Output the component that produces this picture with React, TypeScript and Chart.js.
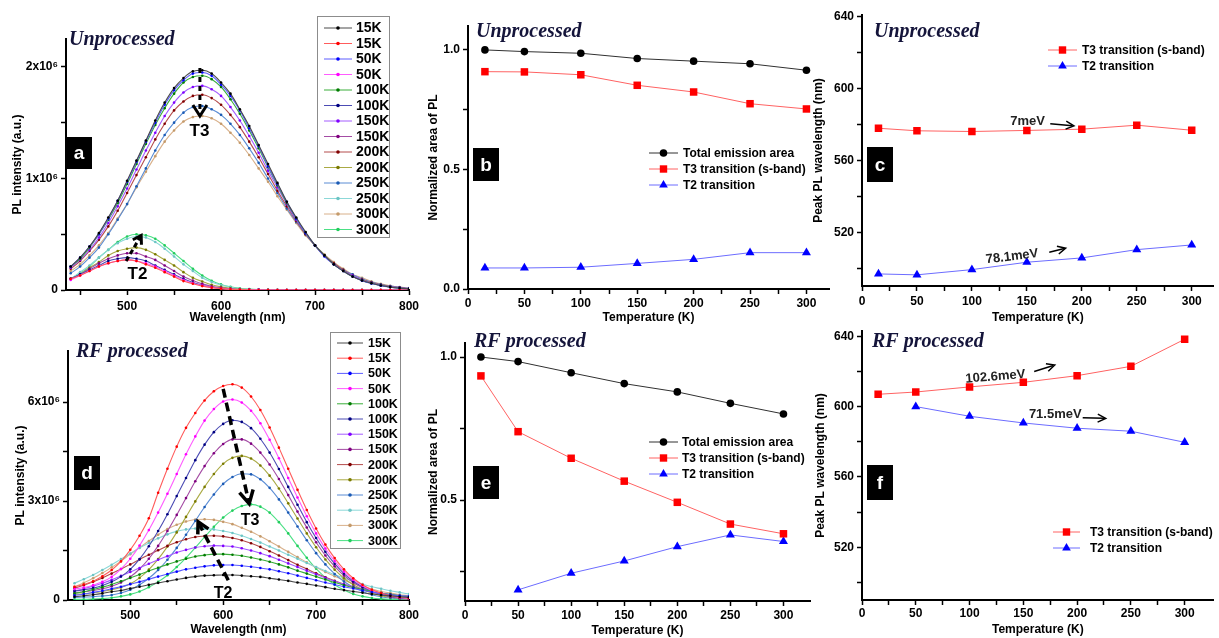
import React, { useEffect, useRef } from 'react';
import { Chart, registerables } from 'chart.js';

Chart.register(...registerables);

const SANS = '"Liberation Sans", Arial, Helvetica, sans-serif';
const SERIF = '"Liberation Serif", "Times New Roman", serif';

// ---------------- data ----------------
const WL = [440, 450, 460, 470, 480, 490, 500, 510, 520, 530, 540, 550, 560, 570, 580, 590, 600, 610, 620, 630, 640, 650, 660, 670, 680, 690, 700, 710, 720, 730, 740, 750, 760, 770, 780, 790, 800];

// panel a (Unprocessed), units of 1e6
const aBlack15 = [0.21, 0.29, 0.39, 0.51, 0.65, 0.80, 0.98, 1.16, 1.34, 1.52, 1.68, 1.81, 1.90, 1.96, 1.97, 1.94, 1.86, 1.76, 1.62, 1.47, 1.30, 1.13, 0.96, 0.79, 0.65, 0.52, 0.40, 0.31, 0.23, 0.17, 0.12, 0.085, 0.06, 0.04, 0.026, 0.017, 0.01];
const aRed15 = [0.10, 0.13, 0.17, 0.21, 0.24, 0.26, 0.27, 0.26, 0.23, 0.20, 0.16, 0.12, 0.08, 0.056, 0.035, 0.021, 0.012, 0.006, 0.003, 0.001, 0, 0, 0, 0, 0, 0, 0, 0, 0, 0, 0, 0, 0, 0, 0, 0, 0];
const aBlue50 = [0.21, 0.29, 0.39, 0.50, 0.64, 0.80, 0.97, 1.15, 1.33, 1.50, 1.66, 1.79, 1.88, 1.94, 1.95, 1.92, 1.84, 1.74, 1.61, 1.45, 1.29, 1.11, 0.95, 0.79, 0.64, 0.51, 0.40, 0.30, 0.23, 0.17, 0.12, 0.084, 0.058, 0.039, 0.026, 0.017, 0.011];
const aMag50 = [0.09, 0.13, 0.17, 0.21, 0.24, 0.26, 0.27, 0.26, 0.24, 0.21, 0.17, 0.13, 0.09, 0.061, 0.039, 0.023, 0.013, 0.007, 0.003, 0.002, 0.001, 0, 0, 0, 0, 0, 0, 0, 0, 0, 0, 0, 0, 0, 0, 0, 0];
const aGreen100 = [0.21, 0.28, 0.38, 0.50, 0.63, 0.78, 0.95, 1.13, 1.31, 1.48, 1.63, 1.76, 1.86, 1.91, 1.92, 1.89, 1.82, 1.71, 1.58, 1.43, 1.27, 1.10, 0.94, 0.78, 0.64, 0.51, 0.40, 0.31, 0.23, 0.17, 0.12, 0.086, 0.06, 0.04, 0.027, 0.017, 0.011];
const aNavy100 = [0.10, 0.14, 0.18, 0.22, 0.26, 0.28, 0.29, 0.28, 0.26, 0.22, 0.18, 0.14, 0.10, 0.066, 0.042, 0.025, 0.014, 0.007, 0.004, 0.002, 0.001, 0, 0, 0, 0, 0, 0, 0, 0, 0, 0, 0, 0, 0, 0, 0, 0];
const aViolet150 = [0.20, 0.27, 0.36, 0.47, 0.60, 0.75, 0.91, 1.08, 1.25, 1.41, 1.56, 1.68, 1.77, 1.82, 1.83, 1.80, 1.74, 1.64, 1.52, 1.38, 1.23, 1.07, 0.92, 0.77, 0.63, 0.51, 0.40, 0.31, 0.23, 0.17, 0.13, 0.09, 0.063, 0.043, 0.029, 0.019, 0.012];
const aPurple150 = [0.10, 0.14, 0.19, 0.24, 0.28, 0.31, 0.33, 0.33, 0.30, 0.27, 0.22, 0.17, 0.12, 0.085, 0.055, 0.033, 0.019, 0.010, 0.005, 0.003, 0.001, 0, 0, 0, 0, 0, 0, 0, 0, 0, 0, 0, 0, 0, 0, 0, 0];
const aWine200 = [0.19, 0.26, 0.35, 0.45, 0.57, 0.71, 0.87, 1.03, 1.19, 1.35, 1.49, 1.61, 1.69, 1.74, 1.75, 1.72, 1.66, 1.57, 1.46, 1.33, 1.19, 1.04, 0.89, 0.75, 0.62, 0.50, 0.40, 0.31, 0.24, 0.18, 0.13, 0.094, 0.067, 0.046, 0.031, 0.021, 0.014];
const aOlive200 = [0.10, 0.14, 0.20, 0.25, 0.31, 0.35, 0.37, 0.38, 0.36, 0.32, 0.27, 0.22, 0.16, 0.11, 0.076, 0.047, 0.028, 0.015, 0.008, 0.004, 0.002, 0.001, 0, 0, 0, 0, 0, 0, 0, 0, 0, 0, 0, 0, 0, 0, 0];
const aSteel250 = [0.15, 0.21, 0.29, 0.38, 0.50, 0.63, 0.77, 0.93, 1.09, 1.25, 1.39, 1.50, 1.59, 1.64, 1.65, 1.62, 1.57, 1.49, 1.39, 1.27, 1.14, 1.00, 0.87, 0.73, 0.61, 0.50, 0.40, 0.31, 0.24, 0.18, 0.14, 0.10, 0.072, 0.05, 0.035, 0.024, 0.016];
const aCyan250 = [0.10, 0.16, 0.22, 0.29, 0.36, 0.42, 0.46, 0.48, 0.47, 0.43, 0.37, 0.30, 0.23, 0.17, 0.11, 0.072, 0.044, 0.025, 0.013, 0.007, 0.003, 0.001, 0, 0, 0, 0, 0, 0, 0, 0, 0, 0, 0, 0, 0, 0, 0];
const aTan300 = [0.17, 0.23, 0.31, 0.40, 0.51, 0.64, 0.77, 0.92, 1.06, 1.20, 1.33, 1.43, 1.51, 1.55, 1.56, 1.54, 1.49, 1.41, 1.32, 1.21, 1.09, 0.97, 0.84, 0.72, 0.60, 0.49, 0.40, 0.32, 0.25, 0.19, 0.14, 0.11, 0.077, 0.055, 0.038, 0.026, 0.018];
const aLgreen300 = [0.10, 0.15, 0.21, 0.29, 0.36, 0.43, 0.48, 0.50, 0.49, 0.46, 0.40, 0.33, 0.26, 0.19, 0.13, 0.083, 0.05, 0.029, 0.016, 0.008, 0.004, 0.002, 0.001, 0, 0, 0, 0, 0, 0, 0, 0, 0, 0, 0, 0, 0, 0];

// panel d (RF processed), units of 1e6
const dBlack15 = [0.10, 0.13, 0.16, 0.20, 0.25, 0.29, 0.35, 0.40, 0.46, 0.52, 0.57, 0.62, 0.67, 0.71, 0.74, 0.75, 0.76, 0.76, 0.74, 0.72, 0.70, 0.66, 0.62, 0.58, 0.53, 0.49, 0.44, 0.39, 0.34, 0.30, 0.26, 0.22, 0.18, 0.15, 0.13, 0.10, 0.08];
const dRed15 = [0.40, 0.47, 0.57, 0.72, 0.91, 1.17, 1.52, 1.95, 2.48, 3.25, 3.98, 4.65, 5.22, 5.67, 6.05, 6.33, 6.49, 6.54, 6.44, 6.17, 5.76, 5.23, 4.62, 3.98, 3.34, 2.73, 2.17, 1.68, 1.27, 0.93, 0.66, 0.46, 0.31, 0.21, 0.13, 0.083, 0.05];
const dBlue50 = [0.14, 0.18, 0.23, 0.28, 0.34, 0.40, 0.48, 0.55, 0.63, 0.71, 0.79, 0.86, 0.93, 0.98, 1.02, 1.05, 1.06, 1.06, 1.04, 1.01, 0.97, 0.93, 0.87, 0.81, 0.74, 0.67, 0.60, 0.53, 0.47, 0.40, 0.35, 0.29, 0.24, 0.20, 0.16, 0.13, 0.11];
const dMag50 = [0.33, 0.38, 0.45, 0.55, 0.70, 0.94, 1.25, 1.65, 2.12, 2.65, 3.22, 3.82, 4.42, 4.96, 5.44, 5.79, 6.02, 6.08, 5.99, 5.74, 5.36, 4.86, 4.30, 3.70, 3.11, 2.54, 2.02, 1.56, 1.18, 0.86, 0.61, 0.43, 0.29, 0.20, 0.12, 0.077, 0.047];
const dGreen100 = [0.20, 0.25, 0.32, 0.39, 0.47, 0.57, 0.67, 0.77, 0.88, 0.98, 1.08, 1.17, 1.25, 1.32, 1.36, 1.39, 1.39, 1.37, 1.34, 1.29, 1.23, 1.16, 1.08, 0.99, 0.89, 0.80, 0.71, 0.62, 0.53, 0.45, 0.38, 0.32, 0.26, 0.21, 0.17, 0.13, 0.10];
const dNavy100 = [0.27, 0.31, 0.36, 0.44, 0.55, 0.71, 0.93, 1.24, 1.63, 2.09, 2.60, 3.15, 3.70, 4.24, 4.71, 5.09, 5.34, 5.45, 5.40, 5.21, 4.89, 4.47, 3.97, 3.43, 2.89, 2.36, 1.88, 1.46, 1.10, 0.80, 0.57, 0.40, 0.27, 0.18, 0.11, 0.07, 0.04];
const dViolet150 = [0.27, 0.34, 0.42, 0.51, 0.61, 0.73, 0.85, 0.97, 1.10, 1.22, 1.33, 1.44, 1.52, 1.59, 1.63, 1.65, 1.64, 1.62, 1.57, 1.50, 1.42, 1.33, 1.22, 1.11, 1.00, 0.89, 0.78, 0.67, 0.57, 0.48, 0.40, 0.33, 0.27, 0.21, 0.17, 0.13, 0.10];
const dPurple150 = [0.22, 0.25, 0.29, 0.34, 0.42, 0.53, 0.70, 0.94, 1.25, 1.64, 2.09, 2.58, 3.09, 3.60, 4.06, 4.45, 4.73, 4.87, 4.87, 4.74, 4.47, 4.11, 3.67, 3.18, 2.68, 2.20, 1.75, 1.35, 1.02, 0.74, 0.53, 0.37, 0.25, 0.16, 0.10, 0.063, 0.038];
const dWine200 = [0.36, 0.45, 0.55, 0.67, 0.80, 0.94, 1.08, 1.23, 1.37, 1.51, 1.64, 1.75, 1.84, 1.91, 1.94, 1.95, 1.93, 1.88, 1.81, 1.72, 1.61, 1.48, 1.35, 1.21, 1.07, 0.94, 0.81, 0.69, 0.58, 0.48, 0.39, 0.31, 0.25, 0.19, 0.15, 0.11, 0.085];
const dOlive200 = [0.17, 0.19, 0.22, 0.26, 0.31, 0.38, 0.49, 0.67, 0.92, 1.24, 1.62, 2.05, 2.52, 2.99, 3.43, 3.82, 4.13, 4.31, 4.37, 4.29, 4.08, 3.77, 3.38, 2.93, 2.47, 2.02, 1.60, 1.23, 0.92, 0.66, 0.46, 0.32, 0.21, 0.13, 0.083, 0.05, 0.029];
const dSteel250 = [0.08, 0.09, 0.10, 0.12, 0.15, 0.21, 0.31, 0.46, 0.66, 0.91, 1.22, 1.58, 1.98, 2.40, 2.82, 3.20, 3.52, 3.73, 3.83, 3.81, 3.66, 3.40, 3.05, 2.65, 2.23, 1.81, 1.42, 1.08, 0.79, 0.56, 0.39, 0.26, 0.16, 0.10, 0.061, 0.036, 0.02];
const dCyan250 = [0.51, 0.63, 0.76, 0.91, 1.07, 1.24, 1.41, 1.58, 1.73, 1.87, 1.99, 2.08, 2.14, 2.17, 2.16, 2.14, 2.09, 2.03, 1.95, 1.85, 1.74, 1.62, 1.50, 1.37, 1.25, 1.12, 1.00, 0.88, 0.77, 0.66, 0.57, 0.48, 0.40, 0.34, 0.28, 0.23, 0.18];
const dTan300 = [0.40, 0.52, 0.66, 0.82, 0.99, 1.18, 1.39, 1.59, 1.79, 1.98, 2.15, 2.28, 2.38, 2.44, 2.45, 2.43, 2.37, 2.30, 2.19, 2.07, 1.93, 1.78, 1.62, 1.46, 1.30, 1.14, 0.99, 0.85, 0.72, 0.60, 0.50, 0.41, 0.33, 0.26, 0.21, 0.16, 0.13];
const dLgreen300 = [0.02, 0.02, 0.03, 0.045, 0.07, 0.11, 0.17, 0.26, 0.39, 0.55, 0.75, 1.00, 1.28, 1.59, 1.91, 2.22, 2.50, 2.71, 2.85, 2.90, 2.83, 2.65, 2.36, 2.02, 1.64, 1.28, 0.95, 0.68, 0.46, 0.30, 0.18, 0.11, 0.062, 0.034, 0.017, 0.009, 0.004];

const SPEC_LABELS = ['15K', '15K', '50K', '50K', '100K', '100K', '150K', '150K', '200K', '200K', '250K', '250K', '300K', '300K'];

// temperature panels
const TEMPS = [15, 50, 100, 150, 200, 250, 300];
const TEMPS_E2 = [50, 100, 150, 200, 250, 300];
const TEMPS_F2 = [50, 100, 150, 200, 250, 300];

const B_TOTAL = [1.0, 0.993, 0.986, 0.964, 0.953, 0.942, 0.915];
const B_T3 = [0.909, 0.908, 0.896, 0.852, 0.824, 0.775, 0.753];
const B_T2 = [0.088, 0.088, 0.091, 0.107, 0.124, 0.152, 0.152];

const C_T3 = [578.1, 576.7, 576.3, 576.9, 577.6, 579.8, 577.0];
const C_T2 = [497.2, 496.7, 499.6, 503.7, 506.1, 510.7, 513.3];

const E_TOTAL = [1.0, 0.984, 0.945, 0.907, 0.878, 0.838, 0.801];
const E_T3 = [0.934, 0.739, 0.646, 0.566, 0.492, 0.416, 0.382];
const E_T2 = [0.186, 0.244, 0.287, 0.337, 0.378, 0.355];

const F_T3 = [607.0, 608.3, 611.2, 613.8, 617.6, 622.9, 638.3];
const F_T2 = [600.0, 594.5, 590.7, 587.7, 586.0, 579.7];

// tick positions
const WL_TICKS = [450, 500, 550, 600, 650, 700, 750, 800];
const A_Y_TICKS = [0, 0.5, 1, 1.5, 2];
const D_Y_TICKS = [0, 1.5, 3, 4.5, 6];
const T_TICKS = [0, 25, 50, 75, 100, 125, 150, 175, 200, 225, 250, 275, 300];
const B_Y_TICKS = [0, 0.25, 0.5, 0.75, 1];
const E_Y_TICKS = [0.25, 0.5, 0.75, 1];
const PEAK_TICKS = [500, 520, 540, 560, 580, 600, 620, 640];

const LEG_TOTAL = 'Total emission area';
const LEG_T3 = 'T3 transition (s-band)';
const LEG_T2 = 'T2 transition';

// ---------------- styles ----------------
const COL: any = {
  black: { line: '#4a4a4a', pt: '#000000' },
  red: { line: '#ff5c5c', pt: '#ff0000' },
  blue: { line: '#5c5cff', pt: '#0000ff' },
  magenta: { line: '#ff5cff', pt: '#ff00ff' },
  green: { line: '#3aae3a', pt: '#007a00' },
  navy: { line: '#4c4cb4', pt: '#000080' },
  violet: { line: '#a45cff', pt: '#8000ff' },
  purple: { line: '#a44ca4', pt: '#800080' },
  wine: { line: '#b44c4c', pt: '#800000' },
  olive: { line: '#aaaa44', pt: '#7a7a00' },
  steel: { line: '#5a8cd4', pt: '#1a5ab4' },
  cyan: { line: '#8cd8d8', pt: '#6cc4c4' },
  tan: { line: '#d8b08a', pt: '#c49a6a' },
  lgreen: { line: '#4ae084', pt: '#22cc5c' },
};
const SPEC_COLORS = [COL.black, COL.red, COL.blue, COL.magenta, COL.green, COL.navy, COL.violet, COL.purple, COL.wine, COL.olive, COL.steel, COL.cyan, COL.tan, COL.lgreen];
const A_SERIES = [aBlack15, aRed15, aBlue50, aMag50, aGreen100, aNavy100, aViolet150, aPurple150, aWine200, aOlive200, aSteel250, aCyan250, aTan300, aLgreen300];
const D_SERIES = [dBlack15, dRed15, dBlue50, dMag50, dGreen100, dNavy100, dViolet150, dPurple150, dWine200, dOlive200, dSteel250, dCyan250, dTan300, dLgreen300];

const TOTAL_STYLE = { line: '#303030', pt: '#000000', marker: 'circle' };
const T3_STYLE = { line: '#ff6262', pt: '#ff0000', marker: 'rect' };
const T2_STYLE = { line: '#6c6cff', pt: '#0000ff', marker: 'triangle' };

const TITLE_FONT = `italic bold 20px ${SERIF}`;
const TITLE_COLOR = '#14143a';

// ---------------- helpers ----------------
function axis(o: any) {
  return {
    type: 'linear',
    min: o.min,
    max: o.max,
    afterBuildTicks: (s: any) => {
      s.ticks = o.ticks.map((v: number) => ({ value: v }));
    },
    afterFit: (s: any) => {
      if (o.isY) s.width = o.size;
      else s.height = o.size;
    },
    ticks: {
      autoSkip: false,
      maxRotation: 0,
      minRotation: 0,
      padding: o.tickPad ?? 3,
      color: '#000',
      font: { family: SANS, weight: 'bold', size: 12 },
      callback: (v: any) => o.label(Number(v)),
    },
    grid: { display: true, drawOnChartArea: false, drawTicks: true, tickLength: 5, tickColor: '#000', tickWidth: 1.5 },
    border: { display: true, color: '#000', width: 2 },
    title: {
      display: true,
      text: o.title,
      color: '#000',
      font: { family: SANS, weight: 'bold', size: 12 },
      padding: o.isY ? { top: o.titlePad, bottom: 0 } : { top: 0, bottom: o.titlePad },
    },
  };
}

function drawMarker(ctx: any, kind: string, x: number, y: number, color: string) {
  ctx.fillStyle = color;
  ctx.beginPath();
  if (kind === 'circle') ctx.arc(x, y, 3.8, 0, Math.PI * 2);
  else if (kind === 'rect') ctx.rect(x - 3.7, y - 3.7, 7.4, 7.4);
  else if (kind === 'triangle') {
    const r = 5;
    ctx.moveTo(x, y - r);
    ctx.lineTo(x + r * 0.866, y + r * 0.5);
    ctx.lineTo(x - r * 0.866, y + r * 0.5);
    ctx.closePath();
  } else ctx.arc(x, y, 1.8, 0, Math.PI * 2);
  ctx.fill();
}

function drawArrow(ctx: any, x1: number, y1: number, x2: number, y2: number, a: any) {
  ctx.save();
  ctx.strokeStyle = a.color || '#000';
  ctx.lineWidth = a.w;
  ctx.lineCap = 'butt';
  ctx.lineJoin = 'miter';
  const ang = Math.atan2(y2 - y1, x2 - x1);
  ctx.setLineDash(a.dash || []);
  ctx.beginPath();
  ctx.moveTo(x1, y1);
  ctx.lineTo(x2 - Math.cos(ang) * a.w, y2 - Math.sin(ang) * a.w);
  ctx.stroke();
  ctx.setLineDash([]);
  const bx = x2 - Math.cos(ang) * a.hl;
  const by = y2 - Math.sin(ang) * a.hl;
  const px = -Math.sin(ang) * a.hw;
  const py = Math.cos(ang) * a.hw;
  ctx.beginPath();
  ctx.moveTo(bx + px, by + py);
  ctx.lineTo(x2, y2);
  ctx.lineTo(bx - px, by - py);
  ctx.stroke();
  ctx.restore();
}

function drawLegend(ctx: any, L: any) {
  ctx.save();
  if (L.box) {
    ctx.strokeStyle = '#8c8c8c';
    ctx.lineWidth = 1;
    ctx.strokeRect(L.box[0] + 0.5, L.box[1] + 0.5, L.box[2], L.box[3]);
  }
  L.items.forEach((it: any, i: number) => {
    const y = L.y + i * L.row;
    ctx.strokeStyle = it.line;
    ctx.lineWidth = 1;
    ctx.beginPath();
    ctx.moveTo(L.x1, y);
    ctx.lineTo(L.x2, y);
    ctx.stroke();
    drawMarker(ctx, it.marker, (L.x1 + L.x2) / 2, y, it.pt);
    ctx.font = L.font;
    ctx.fillStyle = '#000';
    ctx.textAlign = 'left';
    ctx.textBaseline = 'middle';
    ctx.fillText(it.label, L.tx, y + 0.5);
  });
  ctx.restore();
}

function makeDeco(d: any) {
  return {
    id: 'deco',
    afterDraw(chart: any) {
      const ctx = chart.ctx;
      const xs = chart.scales.x;
      const ys = chart.scales.y;
      const P = (x: number, y: number, px?: boolean) => (px ? [x, y] : [xs.getPixelForValue(x), ys.getPixelForValue(y)]);
      ctx.save();
      (d.arrows || []).forEach((a: any) => {
        const [x1, y1] = P(a.x1, a.y1);
        const [x2, y2] = P(a.x2, a.y2);
        drawArrow(ctx, x1, y1, x2, y2, a);
      });
      (d.boxes || []).forEach((b: any) => {
        ctx.fillStyle = '#000';
        ctx.fillRect(b.x, b.y, b.w, b.h);
        ctx.fillStyle = '#fff';
        ctx.font = `bold 19px ${SANS}`;
        ctx.textAlign = 'center';
        ctx.textBaseline = 'middle';
        ctx.fillText(b.letter, b.x + b.w / 2, b.y + b.h / 2 + 1);
      });
      (d.texts || []).forEach((t: any) => {
        const [x, y] = P(t.x, t.y, t.px);
        ctx.save();
        ctx.translate(x, y);
        if (t.rot) ctx.rotate(t.rot);
        ctx.font = t.font;
        ctx.fillStyle = t.color || '#000';
        ctx.textAlign = t.align || 'center';
        ctx.textBaseline = 'middle';
        ctx.fillText(t.t, 0, 0);
        ctx.restore();
      });
      if (d.legend) drawLegend(ctx, d.legend);
      ctx.restore();
    },
  };
}

function specDatasets(series: number[][]) {
  return series.map((s, i) => ({
    label: SPEC_LABELS[i],
    data: WL.map((x, j) => ({ x, y: s[j] })),
    borderColor: SPEC_COLORS[i].line,
    backgroundColor: SPEC_COLORS[i].pt,
    pointBackgroundColor: SPEC_COLORS[i].pt,
    pointBorderWidth: 0,
    pointRadius: 1.3,
    pointHoverRadius: 0,
    borderWidth: 1.1,
    cubicInterpolationMode: 'monotone',
    fill: false,
  }));
}

function ptDataset(label: string, xs: number[], ys: number[], st: any) {
  return {
    label,
    data: xs.map((x, i) => ({ x, y: ys[i] })),
    borderColor: st.line,
    borderWidth: 1,
    backgroundColor: st.pt,
    pointBackgroundColor: st.pt,
    pointBorderColor: st.pt,
    pointBorderWidth: 0,
    pointStyle: st.marker,
    pointRadius: st.marker === 'rect' ? 5.3 : st.marker === 'triangle' ? 5.2 : 3.8,
    pointHoverRadius: 0,
    tension: 0,
    fill: false,
  };
}

const specLegendItems = () => SPEC_LABELS.map((label, i) => ({ label, line: SPEC_COLORS[i].line, pt: SPEC_COLORS[i].pt, marker: 'dot' }));

const BASE_OPTS = {
  responsive: false,
  maintainAspectRatio: false,
  animation: false,
  events: [],
  plugins: { legend: { display: false }, tooltip: { enabled: false }, title: { display: false } },
};

const wlLabel = (v: number) => (v % 100 === 0 ? String(v) : '');
const tLabel = (v: number) => (v % 50 === 0 ? String(v) : '');
const expLabel = (v: number) => (v === 0 ? '0' : Number.isInteger(v) ? `${v}x10\u2076` : '');
const peakLabel = (v: number) => ((v - 520) % 40 === 0 ? String(v) : '');

// ---------------- chart configs ----------------
const makeA = () => ({
  type: 'line',
  data: { datasets: specDatasets(A_SERIES) },
  options: {
    ...BASE_OPTS,
    layout: { padding: { left: 0, top: 39, right: 16, bottom: 0 } },
    scales: {
      x: axis({ min: 435, max: 800, ticks: WL_TICKS, label: wlLabel, title: 'Wavelength (nm)', size: 36, isY: false, titlePad: 1, tickPad: 4 }),
      y: axis({ min: 0, max: 2.25, ticks: A_Y_TICKS, label: expLabel, title: 'PL intensity (a.u.)', size: 66, isY: true, titlePad: 10 }),
    },
  },
  plugins: [
    makeDeco({
      arrows: [
        { x1: 577.5, y1: 1.99, x2: 577.5, y2: 1.56, w: 3, dash: [5, 4], hl: 11, hw: 7 },
        { x1: 499, y1: 0.26, x2: 515, y2: 0.49, w: 3, dash: [5, 3], hl: 8, hw: 5 },
      ],
      texts: [
        { t: 'Unprocessed', x: 69, y: 40, px: true, font: TITLE_FONT, color: TITLE_COLOR, align: 'left' },
        { t: 'T3', x: 577, y: 1.42, font: `bold 17px ${SANS}` },
        { t: 'T2', x: 511, y: 0.14, font: `bold 17px ${SANS}` },
      ],
      boxes: [{ x: 66, y: 137, w: 26, h: 32, letter: 'a' }],
      legend: { box: [317, 16, 72, 221], x1: 324, x2: 352, tx: 356, y: 28, row: 15.5, font: `bold 14px ${SANS}`, items: specLegendItems() },
    }),
  ],
});

const makeD = () => ({
  type: 'line',
  data: { datasets: specDatasets(D_SERIES) },
  options: {
    ...BASE_OPTS,
    layout: { padding: { left: 0, top: 33, right: 16, bottom: 0 } },
    scales: {
      x: axis({ min: 433, max: 800, ticks: WL_TICKS, label: wlLabel, title: 'Wavelength (nm)', size: 38, isY: false, titlePad: 1, tickPad: 3 }),
      y: axis({ min: 0, max: 7.55, ticks: D_Y_TICKS, label: expLabel, title: 'PL intensity (a.u.)', size: 68, isY: true, titlePad: 13 }),
    },
  },
  plugins: [
    makeDeco({
      arrows: [
        { x1: 600, y1: 6.4, x2: 628, y2: 2.92, w: 3.5, dash: [9, 5], hl: 13, hw: 7 },
        { x1: 605.5, y1: 0.6, x2: 573, y2: 2.37, w: 3.5, dash: [9, 5], hl: 11, hw: 6 },
      ],
      texts: [
        { t: 'RF processed', x: 76, y: 34, px: true, font: TITLE_FONT, color: TITLE_COLOR, align: 'left' },
        { t: 'T3', x: 629, y: 2.42, font: `bold 16px ${SANS}` },
        { t: 'T2', x: 600, y: 0.2, font: `bold 16px ${SANS}` },
      ],
      boxes: [{ x: 74, y: 138, w: 26, h: 34, letter: 'd' }],
      legend: { box: [330, 14, 70, 216], x1: 337, x2: 363, tx: 368, y: 25, row: 15.2, font: `bold 12.5px ${SANS}`, items: specLegendItems() },
    }),
  ],
});

const areaLegend = (x1: number, x2: number, tx: number, y: number, withTotal: boolean) => ({
  x1,
  x2,
  tx,
  y,
  row: 16,
  font: `bold 12px ${SANS}`,
  items: [
    ...(withTotal ? [{ label: LEG_TOTAL, ...TOTAL_STYLE }] : []),
    { label: LEG_T3, ...T3_STYLE },
    { label: LEG_T2, ...T2_STYLE },
  ],
});

const makeB = () => ({
  type: 'line',
  data: {
    datasets: [ptDataset(LEG_TOTAL, TEMPS, B_TOTAL, TOTAL_STYLE), ptDataset(LEG_T3, TEMPS, B_T3, T3_STYLE), ptDataset(LEG_T2, TEMPS, B_T2, T2_STYLE)],
  },
  options: {
    ...BASE_OPTS,
    layout: { padding: { left: 0, top: 26, right: 6, bottom: 0 } },
    scales: {
      x: axis({ min: 0, max: 320, ticks: T_TICKS, label: tLabel, title: 'Temperature (K)', size: 37, isY: false, titlePad: 1, tickPad: 2 }),
      y: axis({ min: 0, max: 1.1, ticks: B_Y_TICKS, label: (v: number) => (v === 0 ? '0.0' : v === 0.5 ? '0.5' : v === 1 ? '1.0' : ''), title: 'Normalized area of PL', size: 50, isY: true, titlePad: 8 }),
    },
  },
  plugins: [
    makeDeco({
      texts: [{ t: 'Unprocessed', x: 58, y: 32, px: true, font: TITLE_FONT, color: TITLE_COLOR, align: 'left' }],
      boxes: [{ x: 55, y: 148, w: 26, h: 33, letter: 'b' }],
      legend: areaLegend(231, 260, 265, 153, true),
    }),
  ],
});

const makeE = () => ({
  type: 'line',
  data: {
    datasets: [ptDataset(LEG_TOTAL, TEMPS, E_TOTAL, TOTAL_STYLE), ptDataset(LEG_T3, TEMPS, E_T3, T3_STYLE), ptDataset(LEG_T2, TEMPS_E2, E_T2, T2_STYLE)],
  },
  options: {
    ...BASE_OPTS,
    layout: { padding: { left: 0, top: 25, right: 25, bottom: 0 } },
    scales: {
      x: axis({ min: 0, max: 325, ticks: T_TICKS, label: tLabel, title: 'Temperature (K)', size: 37, isY: false, titlePad: 0, tickPad: 2 }),
      y: axis({ min: 0.147, max: 1.049, ticks: E_Y_TICKS, label: (v: number) => (v === 0.5 ? '0.5' : v === 1 ? '1.0' : ''), title: 'Normalized area of PL', size: 47, isY: true, titlePad: 8 }),
    },
  },
  plugins: [
    makeDeco({
      texts: [{ t: 'RF processed', x: 56, y: 24, px: true, font: TITLE_FONT, color: TITLE_COLOR, align: 'left' }],
      boxes: [{ x: 55, y: 148, w: 26, h: 33, letter: 'e' }],
      legend: areaLegend(231, 260, 264, 124, true),
    }),
  ],
});

const makeC = () => ({
  type: 'line',
  data: { datasets: [ptDataset(LEG_T3, TEMPS, C_T3, T3_STYLE), ptDataset(LEG_T2, TEMPS, C_T2, T2_STYLE)] },
  options: {
    ...BASE_OPTS,
    layout: { padding: { left: 0, top: 15, right: 1, bottom: 0 } },
    scales: {
      x: axis({ min: 0, max: 320, ticks: T_TICKS, label: tLabel, title: 'Temperature (K)', size: 40, isY: false, titlePad: 1, tickPad: 3 }),
      y: axis({ min: 490.5, max: 641, ticks: PEAK_TICKS, label: peakLabel, title: 'Peak PL wavelength (nm)', size: 54, isY: true, titlePad: 3 }),
    },
  },
  plugins: [
    makeDeco({
      arrows: [
        { x1: 171.3, y1: 580.6, x2: 192.8, y2: 579.4, w: 1.5, hl: 8, hw: 4 },
        { x1: 170.4, y1: 509.3, x2: 185.3, y2: 511.5, w: 1.5, hl: 8, hw: 4 },
      ],
      texts: [
        { t: 'Unprocessed', x: 66, y: 32, px: true, font: TITLE_FONT, color: TITLE_COLOR, align: 'left' },
        { t: '7meV', x: 150.6, y: 581.8, font: `bold 13px ${SANS}`, color: '#222' },
        { t: '78.1meV', x: 136.5, y: 506.8, font: `bold 13px ${SANS}`, color: '#222', rot: -0.12 },
      ],
      boxes: [{ x: 59, y: 147, w: 26, h: 35, letter: 'c' }],
      legend: areaLegend(240, 269, 274, 50, false),
    }),
  ],
});

const makeF = () => ({
  type: 'line',
  data: { datasets: [ptDataset(LEG_T3, TEMPS, F_T3, T3_STYLE), ptDataset(LEG_T2, TEMPS_F2, F_T2, T2_STYLE)] },
  options: {
    ...BASE_OPTS,
    layout: { padding: { left: 0, top: 13, right: 2, bottom: 0 } },
    scales: {
      x: axis({ min: 0, max: 327, ticks: T_TICKS, label: tLabel, title: 'Temperature (K)', size: 38, isY: false, titlePad: 1, tickPad: 1 }),
      y: axis({ min: 490, max: 643, ticks: PEAK_TICKS, label: peakLabel, title: 'Peak PL wavelength (nm)', size: 54, isY: true, titlePad: 5 }),
    },
  },
  plugins: [
    makeDeco({
      arrows: [
        { x1: 160.1, y1: 620, x2: 179.2, y2: 623.6, w: 1.5, hl: 8, hw: 4 },
        { x1: 205.2, y1: 593.7, x2: 226.6, y2: 593.3, w: 1.5, hl: 8, hw: 4 },
      ],
      texts: [
        { t: 'RF processed', x: 64, y: 24, px: true, font: TITLE_FONT, color: TITLE_COLOR, align: 'left' },
        { t: '102.6meV', x: 124, y: 617, font: `bold 13px ${SANS}`, color: '#222', rot: -0.08 },
        { t: '71.5meV', x: 179.7, y: 595.3, font: `bold 13px ${SANS}`, color: '#222' },
      ],
      boxes: [{ x: 59, y: 147, w: 26, h: 35, letter: 'f' }],
      legend: { ...areaLegend(245, 272, 282, 214, false) },
    }),
  ],
});

// ---------------- components ----------------
function ChartBox(props: { left: number; top: number; width: number; height: number; make: () => any }) {
  const ref = useRef<HTMLCanvasElement | null>(null);
  useEffect(() => {
    const chart = new Chart(ref.current as HTMLCanvasElement, props.make());
    return () => chart.destroy();
  }, []);
  return (
    <canvas
      ref={ref}
      width={props.width}
      height={props.height}
      style={{ position: 'absolute', left: props.left, top: props.top, width: props.width, height: props.height }}
    />
  );
}

export default function App() {
  return (
    <div style={{ position: 'absolute', left: 0, top: 0, width: 1219, height: 638, background: '#fff', overflow: 'hidden' }}>
      <ChartBox left={0} top={0} width={425} height={326} make={makeA} />
      <ChartBox left={418} top={0} width={417} height={326} make={makeB} />
      <ChartBox left={808} top={0} width={411} height={326} make={makeC} />
      <ChartBox left={0} top={318} width={425} height={320} make={makeD} />
      <ChartBox left={418} top={318} width={417} height={320} make={makeE} />
      <ChartBox left={808} top={318} width={411} height={320} make={makeF} />
    </div>
  );
}
